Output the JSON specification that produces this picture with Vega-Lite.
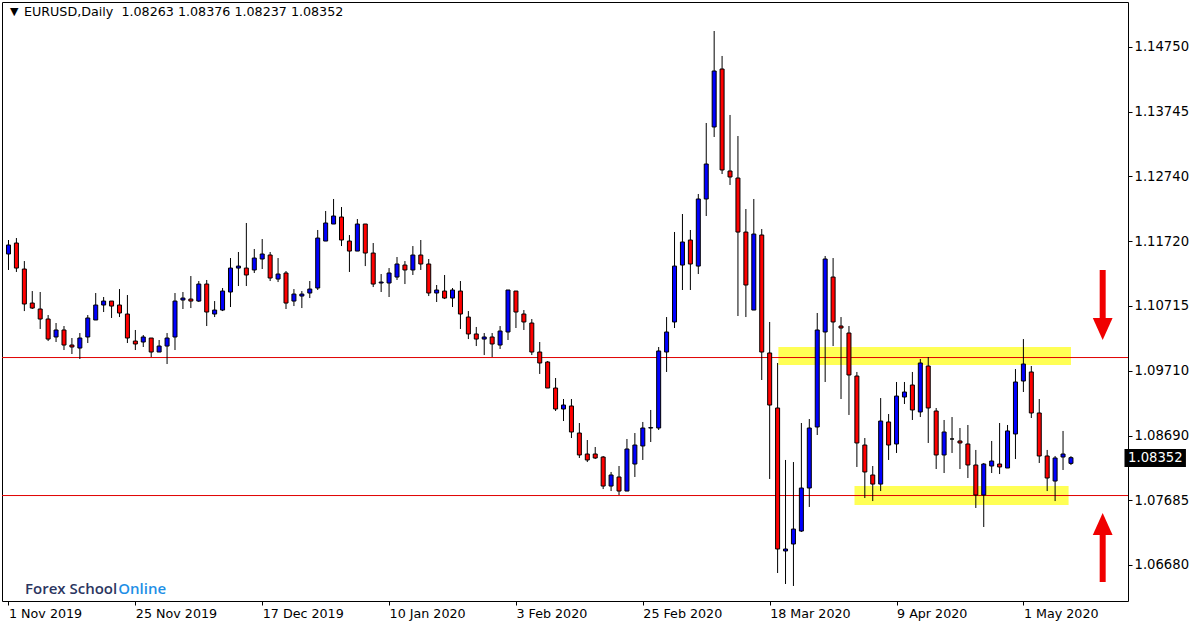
{
  "$schema": "https://vega.github.io/schema/vega-lite/v6.json",
  "width": 1126,
  "height": 599,
  "autosize": {"type": "none"},
  "padding": {"left": 2, "top": 2, "right": 72, "bottom": 26},
  "background": "white",
  "config": {
    "view": {"stroke": "black", "strokeWidth": 1},
    "axis": {"labelFont": "DejaVu Sans", "labelColor": "black", "tickColor": "black", "domain": false, "grid": false, "title": null}
  },
  "datasets": {
    "candles": [
      {"i":0,"o":1.11525,"h":1.11743,"l":1.11276,"c":1.11665},
      {"i":1,"o":1.11696,"h":1.11774,"l":1.11245,"c":1.11306},
      {"i":2,"o":1.11291,"h":1.11415,"l":1.10636,"c":1.10746},
      {"i":3,"o":1.10761,"h":1.10948,"l":1.10668,"c":1.10683},
      {"i":4,"o":1.10668,"h":1.10933,"l":1.10357,"c":1.10512},
      {"i":5,"o":1.10512,"h":1.10574,"l":1.10169,"c":1.10200},
      {"i":6,"o":1.10232,"h":1.10450,"l":1.10154,"c":1.10341},
      {"i":7,"o":1.10341,"h":1.10403,"l":1.10029,"c":1.10107},
      {"i":8,"o":1.10107,"h":1.10216,"l":1.09967,"c":1.10076},
      {"i":9,"o":1.10060,"h":1.10294,"l":1.09889,"c":1.10216},
      {"i":10,"o":1.10232,"h":1.10574,"l":1.10138,"c":1.10528},
      {"i":11,"o":1.10497,"h":1.10917,"l":1.10497,"c":1.10730},
      {"i":12,"o":1.10730,"h":1.10855,"l":1.10621,"c":1.10792},
      {"i":13,"o":1.10792,"h":1.10792,"l":1.10528,"c":1.10714},
      {"i":14,"o":1.10730,"h":1.10979,"l":1.10543,"c":1.10606},
      {"i":15,"o":1.10590,"h":1.10886,"l":1.10138,"c":1.10216},
      {"i":16,"o":1.10169,"h":1.10341,"l":1.10029,"c":1.10123},
      {"i":17,"o":1.10154,"h":1.10263,"l":1.10076,"c":1.10232},
      {"i":18,"o":1.10216,"h":1.10216,"l":1.09920,"c":1.09998},
      {"i":19,"o":1.09998,"h":1.10185,"l":1.09998,"c":1.10091},
      {"i":20,"o":1.10091,"h":1.10294,"l":1.09811,"c":1.10216},
      {"i":21,"o":1.10232,"h":1.10917,"l":1.10029,"c":1.10792},
      {"i":22,"o":1.10808,"h":1.10933,"l":1.10668,"c":1.10839},
      {"i":23,"o":1.10823,"h":1.11182,"l":1.10683,"c":1.10792},
      {"i":24,"o":1.10792,"h":1.11104,"l":1.10777,"c":1.11057},
      {"i":25,"o":1.11057,"h":1.11120,"l":1.10403,"c":1.10621},
      {"i":26,"o":1.10590,"h":1.10792,"l":1.10543,"c":1.10652},
      {"i":27,"o":1.10652,"h":1.10995,"l":1.10636,"c":1.10948},
      {"i":28,"o":1.10933,"h":1.11462,"l":1.10699,"c":1.11306},
      {"i":29,"o":1.11306,"h":1.11556,"l":1.11026,"c":1.11337},
      {"i":30,"o":1.11306,"h":1.12008,"l":1.11026,"c":1.11198},
      {"i":31,"o":1.11276,"h":1.11603,"l":1.11229,"c":1.11462},
      {"i":32,"o":1.11447,"h":1.11758,"l":1.11291,"c":1.11525},
      {"i":33,"o":1.11509,"h":1.11556,"l":1.11104,"c":1.11151},
      {"i":34,"o":1.11135,"h":1.11462,"l":1.11088,"c":1.11213},
      {"i":35,"o":1.11229,"h":1.11260,"l":1.10668,"c":1.10761},
      {"i":36,"o":1.10792,"h":1.10979,"l":1.10714,"c":1.10901},
      {"i":37,"o":1.10870,"h":1.10948,"l":1.10683,"c":1.10901},
      {"i":38,"o":1.10917,"h":1.11104,"l":1.10839,"c":1.10979},
      {"i":39,"o":1.10995,"h":1.11899,"l":1.10964,"c":1.11774},
      {"i":40,"o":1.11727,"h":1.12195,"l":1.11727,"c":1.12008},
      {"i":41,"o":1.11992,"h":1.12382,"l":1.11992,"c":1.12117},
      {"i":42,"o":1.12101,"h":1.12257,"l":1.11649,"c":1.11743},
      {"i":43,"o":1.11727,"h":1.11820,"l":1.11245,"c":1.11571},
      {"i":44,"o":1.11571,"h":1.12070,"l":1.11571,"c":1.11992},
      {"i":45,"o":1.11992,"h":1.11992,"l":1.11337,"c":1.11540},
      {"i":46,"o":1.11540,"h":1.11696,"l":1.11010,"c":1.11057},
      {"i":47,"o":1.11073,"h":1.11213,"l":1.10933,"c":1.11088},
      {"i":48,"o":1.11073,"h":1.11306,"l":1.10855,"c":1.11229},
      {"i":49,"o":1.11166,"h":1.11478,"l":1.11120,"c":1.11369},
      {"i":50,"o":1.11353,"h":1.11415,"l":1.11057,"c":1.11276},
      {"i":51,"o":1.11276,"h":1.11649,"l":1.11198,"c":1.11509},
      {"i":52,"o":1.11509,"h":1.11743,"l":1.11276,"c":1.11369},
      {"i":53,"o":1.11369,"h":1.11447,"l":1.10870,"c":1.10917},
      {"i":54,"o":1.10917,"h":1.11042,"l":1.10777,"c":1.10964},
      {"i":55,"o":1.10948,"h":1.11198,"l":1.10823,"c":1.10839},
      {"i":56,"o":1.10839,"h":1.10995,"l":1.10699,"c":1.10964},
      {"i":57,"o":1.10948,"h":1.11104,"l":1.10357,"c":1.10590},
      {"i":58,"o":1.10543,"h":1.10636,"l":1.10200,"c":1.10279},
      {"i":59,"o":1.10279,"h":1.10388,"l":1.10091,"c":1.10200},
      {"i":60,"o":1.10200,"h":1.10294,"l":1.09951,"c":1.10232},
      {"i":61,"o":1.10232,"h":1.10294,"l":1.09920,"c":1.10123},
      {"i":62,"o":1.10107,"h":1.10403,"l":1.10045,"c":1.10325},
      {"i":63,"o":1.10310,"h":1.10964,"l":1.10185,"c":1.10964},
      {"i":64,"o":1.10948,"h":1.10948,"l":1.10372,"c":1.10621},
      {"i":65,"o":1.10590,"h":1.10652,"l":1.10341,"c":1.10466},
      {"i":66,"o":1.10450,"h":1.10512,"l":1.09951,"c":1.09998},
      {"i":67,"o":1.09998,"h":1.10154,"l":1.09656,"c":1.09827},
      {"i":68,"o":1.09842,"h":1.09858,"l":1.09437,"c":1.09437},
      {"i":69,"o":1.09437,"h":1.09593,"l":1.09079,"c":1.09110},
      {"i":70,"o":1.09110,"h":1.09266,"l":1.08923,"c":1.09172},
      {"i":71,"o":1.09157,"h":1.09266,"l":1.08658,"c":1.08752},
      {"i":72,"o":1.08736,"h":1.08892,"l":1.08347,"c":1.08394},
      {"i":73,"o":1.08409,"h":1.08627,"l":1.08284,"c":1.08316},
      {"i":74,"o":1.08409,"h":1.08518,"l":1.08331,"c":1.08347},
      {"i":75,"o":1.08362,"h":1.08378,"l":1.07863,"c":1.07910},
      {"i":76,"o":1.07910,"h":1.08129,"l":1.07832,"c":1.08082},
      {"i":77,"o":1.08051,"h":1.08222,"l":1.07770,"c":1.07832},
      {"i":78,"o":1.07832,"h":1.08643,"l":1.07832,"c":1.08487},
      {"i":79,"o":1.08253,"h":1.08736,"l":1.08051,"c":1.08549},
      {"i":80,"o":1.08534,"h":1.08908,"l":1.08316,"c":1.08814},
      {"i":81,"o":1.08814,"h":1.09095,"l":1.08596,"c":1.08820},
      {"i":82,"o":1.08814,"h":1.10076,"l":1.08783,"c":1.10014},
      {"i":83,"o":1.09998,"h":1.10543,"l":1.09687,"c":1.10310},
      {"i":84,"o":1.10466,"h":1.11868,"l":1.10372,"c":1.11337},
      {"i":85,"o":1.11353,"h":1.12148,"l":1.10964,"c":1.11712},
      {"i":86,"o":1.11743,"h":1.11899,"l":1.10964,"c":1.11369},
      {"i":87,"o":1.11337,"h":1.12460,"l":1.11213,"c":1.12382},
      {"i":88,"o":1.12382,"h":1.13566,"l":1.12117,"c":1.12927},
      {"i":89,"o":1.13504,"h":1.14999,"l":1.13348,"c":1.14376},
      {"i":90,"o":1.14407,"h":1.14610,"l":1.12771,"c":1.12834},
      {"i":91,"o":1.12818,"h":1.13691,"l":1.12600,"c":1.12725},
      {"i":92,"o":1.12709,"h":1.13363,"l":1.10559,"c":1.11867},
      {"i":93,"o":1.11867,"h":1.12226,"l":1.10543,"c":1.11042},
      {"i":94,"o":1.10652,"h":1.12382,"l":1.10652,"c":1.11836},
      {"i":95,"o":1.11821,"h":1.11914,"l":1.09562,"c":1.09998},
      {"i":96,"o":1.09983,"h":1.10466,"l":1.08020,"c":1.09172},
      {"i":97,"o":1.09126,"h":1.09827,"l":1.06555,"c":1.06929},
      {"i":98,"o":1.06898,"h":1.08316,"l":1.06384,"c":1.06929},
      {"i":99,"o":1.07007,"h":1.08284,"l":1.06353,"c":1.07240},
      {"i":100,"o":1.07209,"h":1.08892,"l":1.07194,"c":1.07879},
      {"i":101,"o":1.07879,"h":1.08954,"l":1.07584,"c":1.08814},
      {"i":102,"o":1.08830,"h":1.10606,"l":1.08705,"c":1.10341},
      {"i":103,"o":1.10310,"h":1.11494,"l":1.09531,"c":1.11447},
      {"i":104,"o":1.11166,"h":1.11462,"l":1.10091,"c":1.10466},
      {"i":105,"o":1.10403,"h":1.10543,"l":1.09266,"c":1.10372},
      {"i":106,"o":1.10294,"h":1.10403,"l":1.09017,"c":1.09640},
      {"i":107,"o":1.09624,"h":1.09687,"l":1.08207,"c":1.08581},
      {"i":108,"o":1.08549,"h":1.08658,"l":1.07723,"c":1.08129},
      {"i":109,"o":1.08082,"h":1.08222,"l":1.07676,"c":1.07941},
      {"i":110,"o":1.07941,"h":1.09281,"l":1.07832,"c":1.08923},
      {"i":111,"o":1.08908,"h":1.09032,"l":1.08316,"c":1.08549},
      {"i":112,"o":1.08565,"h":1.09531,"l":1.08425,"c":1.09312},
      {"i":113,"o":1.09297,"h":1.09531,"l":1.09188,"c":1.09375},
      {"i":114,"o":1.09484,"h":1.09687,"l":1.08939,"c":1.09095},
      {"i":115,"o":1.09064,"h":1.09889,"l":1.08985,"c":1.09827},
      {"i":116,"o":1.09780,"h":1.09920,"l":1.08581,"c":1.09126},
      {"i":117,"o":1.09079,"h":1.09126,"l":1.08175,"c":1.08394},
      {"i":118,"o":1.08394,"h":1.08939,"l":1.08113,"c":1.08752},
      {"i":119,"o":1.08643,"h":1.08985,"l":1.08425,"c":1.08643},
      {"i":120,"o":1.08612,"h":1.08814,"l":1.08175,"c":1.08581},
      {"i":121,"o":1.08565,"h":1.08861,"l":1.08035,"c":1.08238},
      {"i":122,"o":1.08238,"h":1.08472,"l":1.07568,"c":1.07770},
      {"i":123,"o":1.07770,"h":1.08269,"l":1.07272,"c":1.08253},
      {"i":124,"o":1.08222,"h":1.08612,"l":1.08113,"c":1.08300},
      {"i":125,"o":1.08253,"h":1.08892,"l":1.08097,"c":1.08207},
      {"i":126,"o":1.08191,"h":1.08861,"l":1.08191,"c":1.08768},
      {"i":127,"o":1.08721,"h":1.09733,"l":1.08331,"c":1.09531},
      {"i":128,"o":1.09546,"h":1.10200,"l":1.09375,"c":1.09811},
      {"i":129,"o":1.09687,"h":1.09780,"l":1.08970,"c":1.09048},
      {"i":130,"o":1.09048,"h":1.09266,"l":1.08269,"c":1.08378},
      {"i":131,"o":1.08378,"h":1.08472,"l":1.07832,"c":1.08035},
      {"i":132,"o":1.07988,"h":1.08378,"l":1.07676,"c":1.08347},
      {"i":133,"o":1.08362,"h":1.08768,"l":1.08160,"c":1.08409},
      {"i":134,"o":1.08263,"h":1.08376,"l":1.08237,"c":1.08352}
    ],
    "levels": [{"p": 1.09912}, {"p": 1.07762}],
    "zones": [
      {"x1": 97.1, "x2": 134.0, "p1": 1.10076, "p2": 1.09796},
      {"x1": 106.7, "x2": 133.7, "p1": 1.07911, "p2": 1.07615}
    ],
    "shafts": [
      {"x": 138, "p1": 1.11276, "p2": 1.10497},
      {"x": 138, "p1": 1.07178, "p2": 1.06415}
    ]
  },
  "layer": [
    {
      "data": {"name": "zones"},
      "mark": {"type": "rect", "fill": "#ffff55", "clip": true},
      "encoding": {
        "x": {
          "field": "x1", "type": "quantitative",
          "scale": {"domain": [-0.1875, 140.5625], "nice": false, "zero": false},
          "axis": {
            "orient": "bottom",
            "values": [0, 16, 32, 48, 64, 80, 96, 112, 128],
            "labelExpr": "['1 Nov 2019','25 Nov 2019','17 Dec 2019','10 Jan 2020','3 Feb 2020','25 Feb 2020','18 Mar 2020','9 Apr 2020','1 May 2020'][round(datum.value/16)]",
            "labelAlign": "left", "labelFontSize": 12.7, "tickSize": 4, "labelPadding": 2,
            "labelFlush": false, "labelOverlap": false, "title": null
          }
        },
        "x2": {"field": "x2"},
        "y": {
          "field": "p1", "type": "quantitative",
          "scale": {"domain": [1.06119, 1.15451], "nice": false, "zero": false},
          "axis": {
            "orient": "right",
            "values": [1.0668, 1.07685, 1.0869, 1.0971, 1.10715, 1.1172, 1.1274, 1.13745, 1.1475],
            "format": ".5f", "labelFontSize": 13.2, "tickSize": 4, "labelPadding": 2,
            "labelOverlap": false, "title": null
          }
        },
        "y2": {"field": "p2"}
      }
    },
    {
      "data": {"name": "levels"},
      "mark": {"type": "rule", "color": "#e00000", "strokeWidth": 1, "clip": true},
      "encoding": {"y": {"field": "p", "type": "quantitative"}}
    },
    {
      "data": {"name": "candles"},
      "mark": {"type": "rule", "color": "black", "strokeWidth": 1, "clip": true},
      "encoding": {
        "x": {"field": "i", "type": "quantitative"},
        "y": {"field": "l", "type": "quantitative"},
        "y2": {"field": "h"}
      }
    },
    {
      "data": {"name": "candles"},
      "mark": {"type": "bar", "orient": "vertical", "size": 4, "stroke": "black", "strokeWidth": 1, "clip": true},
      "encoding": {
        "x": {"field": "i", "type": "quantitative"},
        "y": {"field": "o", "type": "quantitative"},
        "y2": {"field": "c"},
        "fill": {"condition": {"test": "datum.c >= datum.o", "value": "#0000ff"}, "value": "#ff0000"}
      }
    },
    {
      "data": {"name": "shafts"},
      "mark": {"type": "rule", "color": "#f00000", "strokeWidth": 6},
      "encoding": {
        "x": {"field": "x", "type": "quantitative"},
        "y": {"field": "p1", "type": "quantitative"},
        "y2": {"field": "p2"}
      }
    },
    {
      "data": {"values": [{"x": 138, "p": 1.10357}]},
      "mark": {"type": "point", "filled": true, "color": "#f00000", "opacity": 1, "size": 484, "shape": "M-0.9,-1L0.9,-1L0,1Z"},
      "encoding": {"x": {"field": "x", "type": "quantitative"}, "y": {"field": "p", "type": "quantitative"}}
    },
    {
      "data": {"values": [{"x": 138, "p": 1.07319}]},
      "mark": {"type": "point", "filled": true, "color": "#f00000", "opacity": 1, "size": 484, "shape": "M-0.9,1L0.9,1L0,-1Z"},
      "encoding": {"x": {"field": "x", "type": "quantitative"}, "y": {"field": "p", "type": "quantitative"}}
    },
    {
      "data": {"values": [{"x1": 140.75, "x2": 148.5, "p1": 1.08487, "p2": 1.08207}]},
      "mark": {"type": "rect", "fill": "black", "clip": false},
      "encoding": {
        "x": {"field": "x1", "type": "quantitative"},
        "x2": {"field": "x2"},
        "y": {"field": "p1", "type": "quantitative"},
        "y2": {"field": "p2"}
      }
    },
    {
      "data": {"values": [{"x": 141.2, "p": 1.08347, "t": "1.08352"}]},
      "mark": {"type": "text", "color": "white", "align": "left", "baseline": "middle", "font": "DejaVu Sans", "fontSize": 13.2, "clip": false},
      "encoding": {
        "x": {"field": "x", "type": "quantitative"},
        "y": {"field": "p", "type": "quantitative"},
        "text": {"field": "t"}
      }
    },
    {
      "data": {"values": [{"x": 0.2, "p": 1.15295, "t": "▼"}]},
      "mark": {"type": "text", "color": "black", "align": "left", "baseline": "middle", "font": "DejaVu Sans", "fontSize": 11},
      "encoding": {
        "x": {"field": "x", "type": "quantitative"},
        "y": {"field": "p", "type": "quantitative"},
        "text": {"field": "t"}
      }
    },
    {
      "data": {"values": [{"x": 1.95, "p": 1.15295, "t": "EURUSD,Daily\u00a0\u00a01.08263 1.08376 1.08237 1.08352"}]},
      "mark": {"type": "text", "color": "black", "align": "left", "baseline": "middle", "font": "DejaVu Sans", "fontSize": 12.7},
      "encoding": {
        "x": {"field": "x", "type": "quantitative"},
        "y": {"field": "p", "type": "quantitative"},
        "text": {"field": "t"}
      }
    },
    {
      "data": {"values": [{"x": 13.71, "p": 1.06306, "t": "Forex School"}]},
      "mark": {"type": "text", "color": "#2b3560", "align": "right", "baseline": "middle", "font": "Open Sans", "fontWeight": 600, "fontSize": 15},
      "encoding": {
        "x": {"field": "x", "type": "quantitative"},
        "y": {"field": "p", "type": "quantitative"},
        "text": {"field": "t"}
      }
    },
    {
      "data": {"values": [{"x": 13.84, "p": 1.06306, "t": "Online"}]},
      "mark": {"type": "text", "color": "#1e8fe6", "align": "left", "baseline": "middle", "font": "Open Sans", "fontWeight": 600, "fontSize": 15},
      "encoding": {
        "x": {"field": "x", "type": "quantitative"},
        "y": {"field": "p", "type": "quantitative"},
        "text": {"field": "t"}
      }
    }
  ]
}
